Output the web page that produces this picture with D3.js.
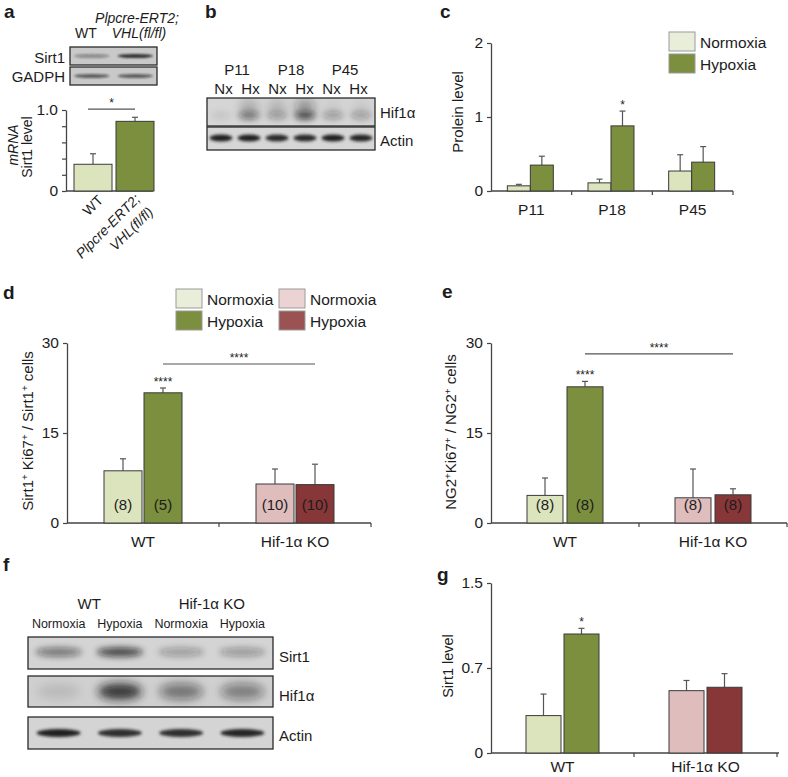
<!DOCTYPE html>
<html><head><meta charset="utf-8">
<script src="https://cdn.jsdelivr.net/npm/d3@7/dist/d3.min.js"></script>
<style>
body{margin:0;background:#fff}
svg{display:block}
text{font-family:'Liberation Sans',Arial,Helvetica,sans-serif;fill:#1c1c1c}
</style>
</head><body>
<script>
// ---------------- DATA ----------------
// panel a
const aCategories = ["WT", "Plpcre-ERT2; VHL(fl/fl)"];
const aValues = [0.33, 0.86];
const aErrors = [0.13, 0.05];
const aTicks = [0, 0.2, 0.4, 0.6, 0.8, 1.0];
const aTickLabels = ["0", "", "", "", "", "1.0"];
const aSirt1Bands = [0.35, 0.85];
const aGapdhBands = [0.6, 0.6];
const aSigLevel = 1.01;

// panel b
const bAges = ["P11", "P18", "P45"];
const bLanes = ["Nx", "Hx", "Nx", "Hx", "Nx", "Hx"];
const bHifBands = [0.08, 0.5, 0.3, 0.7, 0.32, 0.3];
const bHifSmear = [0.0, 0.18, 0.15, 0.35, 0.05, 0.06];
const bActinBands = [0.95, 0.95, 0.9, 0.9, 0.95, 0.92];

// panel c
const cCategories = ["P11", "P18", "P45"];
const cNormoxia = [0.07, 0.11, 0.27];
const cNormoxiaErr = [0.02, 0.05, 0.22];
const cHypoxia = [0.35, 0.88, 0.39];
const cHypoxiaErr = [0.12, 0.20, 0.21];
const cTicks = [0, 1, 2];
const cStars = [["", ""], ["", "*"], ["", ""]];

// panel d
const dCategories = ["WT", "Hif-1α KO"];
const dNormoxia = [8.7, 6.5];
const dNormoxiaErr = [2.0, 2.5];
const dHypoxia = [21.7, 6.4];
const dHypoxiaErr = [0.8, 3.4];
const dCounts = [["(8)", "(5)"], ["(10)", "(10)"]];
const dStars = [["", "****"], ["", ""]];
const dTicks = [0, 15, 30];
const dSigLevel = 26.5;

// panel e
const eCategories = ["WT", "Hif-1α KO"];
const eNormoxia = [4.6, 4.2];
const eNormoxiaErr = [2.9, 4.8];
const eHypoxia = [22.7, 4.7];
const eHypoxiaErr = [0.9, 1.0];
const eCounts = [["(8)", "(8)"], ["(8)", "(8)"]];
const eStars = [["", "****"], ["", ""]];
const eTicks = [0, 15, 30];
const eSigLevel = 28.2;

// panel f
const fGroups = ["WT", "Hif-1α KO"];
const fLanes = ["Normoxia", "Hypoxia", "Normoxia", "Hypoxia"];
const fSirt1Bands = [0.5, 0.75, 0.3, 0.32];
const fHifBands = [0.1, 0.85, 0.5, 0.45];
const fActinBands = [0.95, 0.88, 0.88, 0.92];

// panel g
const gCategories = ["WT", "Hif-1α KO"];
const gNormoxia = [0.33, 0.55];
const gNormoxiaErr = [0.19, 0.09];
const gHypoxia = [1.05, 0.58];
const gHypoxiaErr = [0.05, 0.12];
const gTicks = [0, 0.75, 1.5];
const gTickLabels = ["0", "0.7", "1.5"];
const gStars = [["", "*"], ["", ""]];

// colours
const greenLight = "#dbe4bd", greenDark = "#7b8f3e", pinkLight = "#dfbdbd", redDark = "#883738";

// ---------------- DRAWING ----------------
const svg = d3.select("body").append("svg").attr("width", 788).attr("height", 777);
const defs = svg.append("defs");
[["b1", 1], ["b15", 1.6], ["b3", 3], ["b5", 5]].forEach(([id, s]) => {
  defs.append("filter").attr("id", id).attr("x", "-100%").attr("y", "-200%").attr("width", "300%").attr("height", "500%")
    .append("feGaussianBlur").attr("stdDeviation", s);
});
let clipN = 0;

function text(x, y, s, o = {}) {
  return svg.append("text").attr("x", x).attr("y", y).text(s)
    .attr("font-size", o.size || 15).attr("text-anchor", o.anchor || "start")
    .attr("font-weight", o.weight || null).attr("font-style", o.style || null);
}

function blot(x, y, w, h, vals, o) {
  const lane = d3.scaleBand().domain(d3.range(vals.length)).range([x, x + w]).paddingInner(0.1).paddingOuter(0.05);
  const id = "clip" + (clipN++);
  defs.append("clipPath").attr("id", id).append("rect").attr("x", x).attr("y", y).attr("width", w).attr("height", h);
  const g = svg.append("g").attr("clip-path", `url(#${id})`);
  g.append("rect").attr("x", x).attr("y", y).attr("width", w).attr("height", h).attr("fill", o.bg);
  g.append("g").selectAll("ellipse").data(vals).join("ellipse")
    .attr("cx", (d, i) => lane(i) + lane.bandwidth() / 2)
    .attr("cy", y + h * o.cy)
    .attr("rx", lane.bandwidth() * o.rx).attr("ry", o.ry)
    .attr("fill", "#151515").attr("fill-opacity", d => d)
    .attr("filter", `url(#${o.filter})`);
  if (o.smear) {
    g.append("g").selectAll("ellipse").data(o.smear).join("ellipse")
      .attr("cx", (d, i) => lane(i) + lane.bandwidth() / 2)
      .attr("cy", y + h * o.smearCy)
      .attr("rx", lane.bandwidth() * 0.4).attr("ry", o.smearRy)
      .attr("fill", "#151515").attr("fill-opacity", d => d)
      .attr("filter", "url(#b5)");
  }
  svg.append("rect").attr("x", x).attr("y", y).attr("width", w).attr("height", h)
    .attr("fill", "none").attr("stroke", "#2a2a2a").attr("stroke-width", 1.3);
  return lane;
}

function barPanel(o) {
  const g = svg.append("g");
  const y = d3.scaleLinear().domain([0, o.ymax]).range([o.y0, o.yTop]);
  const x = d3.scaleBand().domain(o.categories).range(o.xr);
  // y axis
  const ax = g.append("g").attr("transform", `translate(${o.axisX[0]},0)`)
    .call(d3.axisLeft(y).tickValues(o.ticks).tickSize(4).tickSizeOuter(0).tickPadding(4)
      .tickFormat((d, i) => o.tickLabels ? o.tickLabels[i] : d));
  ax.select(".domain").attr("stroke", "#444").attr("stroke-width", 1.3);
  ax.selectAll(".tick line").attr("stroke", "#444").attr("stroke-width", 1.2);
  ax.selectAll(".tick text").attr("font-size", o.tickSize || 15.5).attr("fill", "#1c1c1c")
    .attr("font-family", "'Liberation Sans',Arial,sans-serif");
  // x axis
  g.append("line").attr("x1", o.axisX[0]).attr("x2", o.axisX[1]).attr("y1", o.y0).attr("y2", o.y0)
    .attr("stroke", "#444").attr("stroke-width", 1.3);
  if (o.xTicks !== false) {
    g.selectAll(".xt").data(o.categories).join("line")
      .attr("x1", d => x(d) + x.bandwidth()).attr("x2", d => x(d) + x.bandwidth())
      .attr("y1", o.y0).attr("y2", o.y0 + 4).attr("stroke", "#444").attr("stroke-width", 1.2);
  }
  const n = o.series.length;
  const barX = (ci, si) => x(o.categories[ci]) + x.bandwidth() / 2 + (o.shift || 0)
    - (n * o.bw + (n - 1) * o.gap) / 2 + si * (o.bw + o.gap);
  o.series.forEach((s, si) => {
    s.values.forEach((v, ci) => {
      const bx = barX(ci, si);
      const cx = bx + o.bw / 2;
      const top = y(v);
      if (s.errs) {
        const et = y(v + s.errs[ci]);
        g.append("line").attr("x1", cx).attr("x2", cx).attr("y1", top).attr("y2", et).attr("stroke", "#555").attr("stroke-width", 1.2);
        g.append("line").attr("x1", cx - 3).attr("x2", cx + 3).attr("y1", et).attr("y2", et).attr("stroke", "#555").attr("stroke-width", 1.2);
        if (o.stars && o.stars[ci][si]) {
          g.append("text").attr("x", cx).attr("y", et - 2).attr("text-anchor", "middle")
            .attr("font-size", 12).text(o.stars[ci][si]);
        }
      }
      g.append("rect").attr("x", bx).attr("y", top).attr("width", o.bw).attr("height", o.y0 - top)
        .attr("fill", s.colors[ci]).attr("stroke", "#3a3a3a").attr("stroke-width", 1);
      if (o.counts) {
        g.append("text").attr("x", cx).attr("y", o.y0 - 13).attr("text-anchor", "middle")
          .attr("font-size", 15).text(o.counts[ci][si]);
      }
    });
  });
  if (o.catLabels !== false) {
    g.selectAll(".cl").data(o.categories).join("text")
      .attr("x", d => x(d) + x.bandwidth() / 2).attr("y", o.y0 + (o.catDy || 24))
      .attr("text-anchor", "middle").attr("font-size", 15.5).text(d => d);
  }
  if (o.sig) {
    const x1 = barX(o.sig.from[0], o.sig.from[1]) + o.bw / 2;
    const x2 = barX(o.sig.to[0], o.sig.to[1]) + o.bw / 2;
    const yy = y(o.sig.level);
    g.append("line").attr("x1", x1).attr("x2", x2).attr("y1", yy).attr("y2", yy).attr("stroke", "#555").attr("stroke-width", 1.2);
    g.append("text").attr("x", (x1 + x2) / 2).attr("y", yy - 2).attr("text-anchor", "middle").attr("font-size", 12).text(o.sig.label);
  }
  return { x, y, barX };
}

function rotLabel(x, y, parts, size) {
  const t = svg.append("text").attr("transform", `translate(${x},${y}) rotate(-90)`)
    .attr("text-anchor", "middle").attr("font-size", size);
  parts.forEach(p => {
    const ts = t.append("tspan").text(p.t);
    if (p.sup) ts.attr("font-size", size * 0.65).attr("baseline-shift", "super");
    if (p.italic) ts.attr("font-style", "italic");
  });
  return t;
}

function legend(x, y, items) {
  items.forEach((it, i) => {
    svg.append("rect").attr("x", x).attr("y", y + i * 22).attr("width", 26).attr("height", 19)
      .attr("fill", it.color).attr("stroke", "#9a9a9a").attr("stroke-width", 1);
    text(x + 31, y + i * 22 + 15.5, it.label, { size: 15.5 });
  });
}

// ---- panel letters
[["a", 4, 18], ["b", 205, 18], ["c", 440, 18], ["d", 3, 299], ["e", 442, 298], ["f", 3, 571], ["g", 437, 581]]
  .forEach(([l, x, y]) => text(x, y, l, { size: 19, weight: "bold" }).attr("fill", "#000"));

// ---- panel a
text(86, 38, "WT", { anchor: "middle", size: 14 });
text(137, 23, "Plpcre-ERT2;", { anchor: "middle", size: 14, style: "italic" });
text(139, 38, "VHL(fl/fl)", { anchor: "middle", size: 14, style: "italic" });
blot(70, 47, 87, 18, aSirt1Bands, { bg: "#c9c9c9", cy: 0.5, rx: 0.45, ry: 2, filter: "b1" });
blot(70, 67, 87, 18, aGapdhBands, { bg: "#c9c9c9", cy: 0.5, rx: 0.45, ry: 2, filter: "b1" });
text(65, 63, "Sirt1", { anchor: "end", size: 15 });
text(65, 82, "GADPH", { anchor: "end", size: 15 });
const pa = barPanel({
  ymax: 1.0, y0: 191, yTop: 110, categories: aCategories, xr: [72, 156], axisX: [66, 153], xTicks: false,
  ticks: aTicks, tickLabels: aTickLabels, bw: 38, gap: 0, catLabels: false, tickSize: 15.5,
  series: [{ values: aValues, errs: aErrors, colors: [greenLight, greenDark] }]
});
{
  const x1 = pa.x(aCategories[0]) + pa.x.bandwidth() / 2 - 5, x2 = pa.x(aCategories[1]) + pa.x.bandwidth() / 2;
  const yy = pa.y(aSigLevel);
  svg.append("line").attr("x1", x1).attr("x2", x2).attr("y1", yy).attr("y2", yy).attr("stroke", "#555").attr("stroke-width", 1.2);
  text((x1 + x2) / 2, yy - 2, "*", { anchor: "middle", size: 12 });
}
svg.append("text").attr("transform", "translate(104,201) rotate(-45)").attr("text-anchor", "end").attr("font-size", 14).text("WT");
svg.append("text").attr("transform", "translate(141,200) rotate(-45)").attr("text-anchor", "end").attr("font-size", 14).attr("font-style", "italic").text("Plpcre-ERT2;");
svg.append("text").attr("transform", "translate(154,213) rotate(-45)").attr("text-anchor", "end").attr("font-size", 14).attr("font-style", "italic").text("VHL(fl/fl)");
rotLabel(18, 145, [{ t: "mRNA", italic: true }], 14);
rotLabel(32, 147, [{ t: "Sirt1 level" }], 14);

// ---- panel b
const bLane = d3.scaleBand().domain(d3.range(bLanes.length)).range([210, 372]);
bAges.forEach((a, i) => text((bLane(2 * i) + bLane(2 * i + 1) + bLane.bandwidth()) / 2, 75, a, { anchor: "middle", size: 15 }));
bLanes.forEach((l, i) => text(bLane(i) + bLane.bandwidth() / 2, 94, l, { anchor: "middle", size: 15 }));
blot(207, 98, 168, 28, bHifBands, { bg: "#d6d6d6", cy: 0.62, rx: 0.42, ry: 4, filter: "b3", smear: bHifSmear, smearCy: 0.3, smearRy: 8 });
blot(207, 127, 168, 23, bActinBands, { bg: "#d6d6d6", cy: 0.48, rx: 0.46, ry: 3.5, filter: "b15" });
text(380, 118, "Hif1α", { size: 15 });
text(380, 146, "Actin", { size: 15 });

// ---- panel c
barPanel({
  ymax: 2, y0: 191, yTop: 43, categories: cCategories, xr: [491, 733], axisX: [491, 733],
  ticks: cTicks, bw: 23, gap: 0, shift: -1, stars: cStars,
  series: [
    { values: cNormoxia, errs: cNormoxiaErr, colors: cCategories.map(() => greenLight) },
    { values: cHypoxia, errs: cHypoxiaErr, colors: cCategories.map(() => greenDark) }
  ]
});
rotLabel(463, 112, [{ t: "Prolein level" }], 15);
legend(669, 32, [{ label: "Normoxia", color: "#e9eedb" }, { label: "Hypoxia", color: greenDark }]);

// ---- panel d
legend(176, 289, [{ label: "Normoxia", color: "#e9eedb" }, { label: "Hypoxia", color: greenDark }]);
legend(279, 289, [{ label: "Normoxia", color: "#ecd3d3" }, { label: "Hypoxia", color: "#9b5252" }]);
barPanel({
  ymax: 30, y0: 523, yTop: 343, categories: dCategories, xr: [67, 371], axisX: [67, 371],
  ticks: dTicks, bw: 38, gap: 2, stars: dStars, counts: dCounts,
  sig: { from: [0, 1], to: [1, 1], level: dSigLevel, label: "****" },
  series: [
    { values: dNormoxia, errs: dNormoxiaErr, colors: [greenLight, pinkLight] },
    { values: dHypoxia, errs: dHypoxiaErr, colors: [greenDark, redDark] }
  ]
});
rotLabel(33, 431, [{ t: "Sirt1" }, { t: "+", sup: true }, { t: " Ki67" }, { t: "+", sup: true }, { t: " / Sirt1" }, { t: "+", sup: true }, { t: " cells" }], 15);

// ---- panel e
barPanel({
  ymax: 30, y0: 523, yTop: 343, categories: eCategories, xr: [491, 787], axisX: [491, 787],
  ticks: eTicks, bw: 36, gap: 4, stars: eStars, counts: eCounts,
  sig: { from: [0, 1], to: [1, 1], level: eSigLevel, label: "****" },
  series: [
    { values: eNormoxia, errs: eNormoxiaErr, colors: [greenLight, pinkLight] },
    { values: eHypoxia, errs: eHypoxiaErr, colors: [greenDark, redDark] }
  ]
});
rotLabel(456, 432, [{ t: "NG2" }, { t: "+", sup: true }, { t: "Ki67" }, { t: "+", sup: true }, { t: " / NG2" }, { t: "+", sup: true }, { t: " cells" }], 15);

// ---- panel f
const fLane = d3.scaleBand().domain(d3.range(fLanes.length)).range([28, 273]);
fGroups.forEach((gname, i) => text((fLane(2 * i) + fLane(2 * i + 1) + fLane.bandwidth()) / 2, 609, gname, { anchor: "middle", size: 15 }));
fLanes.forEach((l, i) => text(fLane(i) + fLane.bandwidth() / 2, 628, l, { anchor: "middle", size: 12.5 }));
blot(28, 637, 245, 32, fSirt1Bands, { bg: "#d4d4d4", cy: 0.47, rx: 0.42, ry: 4.5, filter: "b3" });
blot(28, 676, 245, 31, fHifBands, { bg: "#d0d0d0", cy: 0.5, rx: 0.4, ry: 8, filter: "b5" });
blot(28, 717, 245, 32, fActinBands, { bg: "#d4d4d4", cy: 0.5, rx: 0.4, ry: 4, filter: "b15" });
text(279, 662, "Sirt1", { size: 15 });
text(279, 701, "Hif1α", { size: 15 });
text(279, 741, "Actin", { size: 15 });

// ---- panel g
barPanel({
  ymax: 1.5, y0: 753, yTop: 583, categories: gCategories, xr: [491, 777], axisX: [491, 779],
  ticks: gTicks, tickLabels: gTickLabels, bw: 35, gap: 3, stars: gStars, catDy: 19,
  series: [
    { values: gNormoxia, errs: gNormoxiaErr, colors: [greenLight, pinkLight] },
    { values: gHypoxia, errs: gHypoxiaErr, colors: [greenDark, redDark] }
  ]
});
rotLabel(453, 666, [{ t: "Sirt1 level" }], 14.5);
</script>
</body></html>
